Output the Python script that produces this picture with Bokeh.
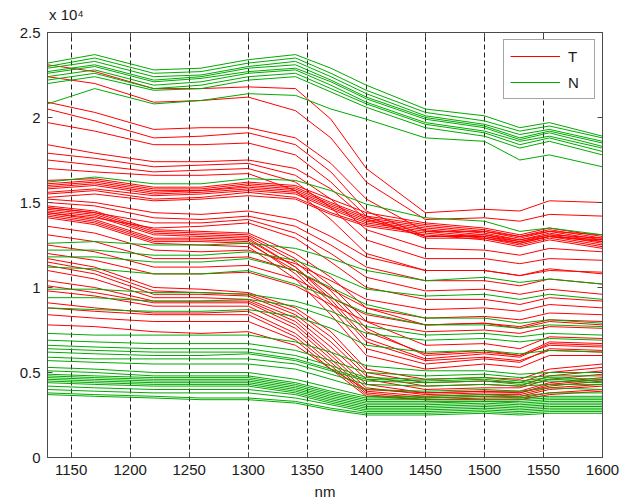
from bokeh.plotting import figure
from bokeh.models import Range1d, FixedTicker, LinearAxis, Label
from bokeh.embed import file_html
from bokeh.resources import INLINE

# wavelength sample points (nm)
WAVELENGTH_NM = [1130, 1170, 1220, 1260, 1300, 1340, 1370, 1400, 1450, 1500, 1530, 1555, 1600]

# ---- T spectra (intensity, units of 10^4) ----
T_TOP = [
    [2.31, 2.27, 2.17, 2.17, 2.18, 2.17, 1.99, 1.70, 1.44, 1.46, 1.45, 1.51, 1.50],
    [2.24, 2.20, 2.09, 2.10, 2.12, 2.04, 1.88, 1.62, 1.40, 1.41, 1.39, 1.43, 1.42],
    [2.09, 2.03, 1.93, 1.94, 1.94, 1.88, 1.73, 1.52, 1.33, 1.33, 1.30, 1.33, 1.31],
    [2.05, 1.98, 1.88, 1.89, 1.91, 1.84, 1.68, 1.45, 1.30, 1.31, 1.28, 1.31, 1.29],
    [1.97, 1.92, 1.84, 1.84, 1.85, 1.78, 1.62, 1.42, 1.29, 1.29, 1.26, 1.30, 1.27],
    [1.84, 1.79, 1.74, 1.74, 1.75, 1.70, 1.58, 1.40, 1.30, 1.30, 1.27, 1.30, 1.28],
    [1.79, 1.76, 1.71, 1.72, 1.73, 1.66, 1.52, 1.34, 1.23, 1.22, 1.19, 1.23, 1.21],
    [1.75, 1.72, 1.68, 1.69, 1.70, 1.62, 1.47, 1.28, 1.17, 1.17, 1.14, 1.17, 1.16],
    [1.70, 1.68, 1.66, 1.66, 1.67, 1.57, 1.40, 1.20, 1.10, 1.10, 1.07, 1.10, 1.09],
]
T_BAND_16 = [
    [1.63, 1.64, 1.59, 1.59, 1.62, 1.60, 1.52, 1.44, 1.38, 1.35, 1.31, 1.35, 1.30],
    [1.61, 1.63, 1.58, 1.58, 1.61, 1.59, 1.50, 1.42, 1.37, 1.34, 1.30, 1.34, 1.29],
    [1.60, 1.62, 1.57, 1.57, 1.60, 1.58, 1.49, 1.41, 1.36, 1.33, 1.29, 1.33, 1.28],
    [1.59, 1.61, 1.56, 1.57, 1.59, 1.57, 1.48, 1.40, 1.35, 1.32, 1.28, 1.32, 1.27],
    [1.58, 1.60, 1.55, 1.56, 1.58, 1.56, 1.47, 1.39, 1.34, 1.31, 1.27, 1.31, 1.26],
    [1.56, 1.58, 1.54, 1.55, 1.57, 1.55, 1.46, 1.38, 1.33, 1.30, 1.26, 1.30, 1.25],
    [1.55, 1.57, 1.52, 1.53, 1.56, 1.53, 1.44, 1.37, 1.32, 1.29, 1.25, 1.29, 1.24],
    [1.53, 1.55, 1.51, 1.52, 1.54, 1.52, 1.43, 1.36, 1.31, 1.28, 1.24, 1.28, 1.23],
]
T_UPPER_GRADUAL = [
    [1.52, 1.50, 1.44, 1.43, 1.45, 1.40, 1.30, 1.18, 1.10, 1.10, 1.07, 1.11, 1.08],
    [1.50, 1.48, 1.41, 1.40, 1.42, 1.36, 1.25, 1.12, 1.04, 1.04, 1.01, 1.05, 1.02],
    [1.47, 1.44, 1.38, 1.38, 1.40, 1.32, 1.20, 1.06, 0.98, 0.99, 0.96, 0.99, 0.96],
    [1.44, 1.41, 1.35, 1.36, 1.38, 1.29, 1.15, 1.00, 0.93, 0.93, 0.90, 0.94, 0.92],
]
T_BAND_STEEP = [
    [1.48, 1.45, 1.34, 1.33, 1.32, 1.20, 1.06, 0.88, 0.78, 0.79, 0.76, 0.80, 0.78],
    [1.47, 1.44, 1.33, 1.32, 1.31, 1.17, 1.01, 0.80, 0.66, 0.67, 0.64, 0.71, 0.70],
    [1.46, 1.43, 1.32, 1.31, 1.30, 1.15, 0.98, 0.76, 0.60, 0.62, 0.60, 0.68, 0.67],
    [1.45, 1.42, 1.31, 1.30, 1.29, 1.12, 0.93, 0.70, 0.58, 0.61, 0.59, 0.67, 0.66],
    [1.44, 1.40, 1.29, 1.29, 1.28, 1.12, 0.95, 0.74, 0.61, 0.63, 0.60, 0.66, 0.65],
    [1.43, 1.39, 1.28, 1.28, 1.27, 1.08, 0.88, 0.64, 0.55, 0.58, 0.56, 0.64, 0.63],
    [1.42, 1.38, 1.27, 1.27, 1.26, 1.10, 0.91, 0.68, 0.57, 0.59, 0.57, 0.63, 0.62],
    [1.41, 1.37, 1.26, 1.25, 1.24, 1.05, 0.84, 0.60, 0.52, 0.55, 0.53, 0.60, 0.60],
]
T_MID = [
    [1.36, 1.32, 1.22, 1.21, 1.22, 1.14, 1.04, 0.93, 0.87, 0.88, 0.86, 0.90, 0.88],
    [1.31, 1.27, 1.17, 1.17, 1.18, 1.10, 0.99, 0.88, 0.82, 0.83, 0.81, 0.85, 0.84],
    [1.25, 1.21, 1.12, 1.12, 1.13, 1.05, 0.94, 0.84, 0.78, 0.79, 0.77, 0.81, 0.80],
    [1.20, 1.16, 1.08, 1.08, 1.09, 1.01, 0.90, 0.80, 0.74, 0.75, 0.73, 0.77, 0.76],
]
T_LOW = [
    [1.17, 1.12, 1.00, 0.99, 0.97, 0.88, 0.74, 0.52, 0.46, 0.47, 0.46, 0.52, 0.55],
    [1.15, 1.10, 0.98, 0.97, 0.96, 0.86, 0.71, 0.50, 0.44, 0.45, 0.44, 0.50, 0.53],
    [1.13, 1.08, 0.96, 0.96, 0.95, 0.84, 0.68, 0.48, 0.42, 0.43, 0.42, 0.48, 0.51],
    [1.10, 1.05, 0.94, 0.94, 0.93, 0.82, 0.65, 0.46, 0.40, 0.41, 0.41, 0.46, 0.49],
    [1.04, 1.00, 0.92, 0.92, 0.92, 0.80, 0.62, 0.43, 0.38, 0.39, 0.39, 0.44, 0.47],
    [1.01, 0.97, 0.91, 0.91, 0.91, 0.78, 0.60, 0.41, 0.37, 0.38, 0.38, 0.42, 0.45],
    [0.98, 0.95, 0.89, 0.89, 0.89, 0.76, 0.58, 0.39, 0.36, 0.37, 0.37, 0.41, 0.43],
    [0.91, 0.88, 0.85, 0.85, 0.86, 0.73, 0.56, 0.38, 0.35, 0.36, 0.36, 0.40, 0.42],
    [0.88, 0.86, 0.84, 0.84, 0.84, 0.71, 0.54, 0.37, 0.34, 0.35, 0.35, 0.38, 0.40],
    [0.84, 0.82, 0.80, 0.80, 0.80, 0.69, 0.52, 0.36, 0.34, 0.34, 0.34, 0.37, 0.39],
    [0.78, 0.77, 0.74, 0.73, 0.74, 0.66, 0.52, 0.40, 0.38, 0.39, 0.38, 0.43, 0.46],
]

# ---- N spectra (intensity, units of 10^4) ----
N_TOP = [
    [2.32, 2.37, 2.28, 2.29, 2.34, 2.37, 2.29, 2.19, 2.05, 2.01, 1.94, 1.97, 1.89],
    [2.30, 2.35, 2.26, 2.27, 2.32, 2.35, 2.26, 2.16, 2.03, 1.98, 1.92, 1.95, 1.88],
    [2.29, 2.33, 2.24, 2.25, 2.30, 2.33, 2.24, 2.14, 2.01, 1.96, 1.90, 1.93, 1.86],
    [2.27, 2.31, 2.22, 2.24, 2.29, 2.31, 2.22, 2.12, 2.00, 1.95, 1.88, 1.92, 1.85],
    [2.26, 2.30, 2.21, 2.23, 2.27, 2.29, 2.21, 2.11, 1.99, 1.94, 1.87, 1.91, 1.83],
    [2.24, 2.28, 2.19, 2.21, 2.26, 2.28, 2.19, 2.09, 1.97, 1.92, 1.86, 1.89, 1.82],
    [2.22, 2.26, 2.17, 2.19, 2.24, 2.26, 2.17, 2.08, 1.96, 1.91, 1.84, 1.88, 1.80],
    [2.20, 2.24, 2.16, 2.17, 2.22, 2.24, 2.15, 2.06, 1.94, 1.89, 1.82, 1.86, 1.78],
    [2.08, 2.17, 2.08, 2.10, 2.14, 2.13, 2.05, 1.99, 1.88, 1.86, 1.75, 1.78, 1.71],
]
N_MID = [
    [1.62, 1.65, 1.61, 1.61, 1.64, 1.63, 1.57, 1.49, 1.41, 1.39, 1.33, 1.35, 1.31],
    [1.26, 1.27, 1.25, 1.25, 1.26, 1.23, 1.17, 1.10, 1.04, 1.06, 1.03, 1.05, 1.02],
    [1.22, 1.22, 1.19, 1.19, 1.21, 1.16, 1.08, 0.99, 0.95, 0.96, 0.93, 0.96, 0.93],
    [1.18, 1.18, 1.15, 1.15, 1.17, 1.10, 1.00, 0.90, 0.82, 0.82, 0.79, 0.81, 0.79],
    [1.12, 1.11, 1.08, 1.08, 1.10, 1.02, 0.94, 0.85, 0.78, 0.78, 0.76, 0.78, 0.77],
    [0.99, 0.99, 0.97, 0.97, 0.96, 0.92, 0.86, 0.77, 0.72, 0.73, 0.71, 0.73, 0.72],
    [0.94, 0.94, 0.92, 0.92, 0.93, 0.89, 0.82, 0.73, 0.69, 0.70, 0.68, 0.70, 0.69],
    [0.88, 0.87, 0.86, 0.86, 0.87, 0.83, 0.76, 0.66, 0.62, 0.63, 0.61, 0.63, 0.62],
]
N_LOWMID = [
    [0.73, 0.72, 0.72, 0.72, 0.72, 0.68, 0.62, 0.54, 0.51, 0.51, 0.49, 0.50, 0.50],
    [0.69, 0.68, 0.67, 0.67, 0.67, 0.63, 0.57, 0.50, 0.48, 0.49, 0.47, 0.48, 0.48],
    [0.66, 0.65, 0.64, 0.64, 0.64, 0.60, 0.54, 0.47, 0.46, 0.47, 0.45, 0.47, 0.46],
    [0.64, 0.63, 0.62, 0.62, 0.62, 0.58, 0.52, 0.46, 0.45, 0.46, 0.44, 0.46, 0.45],
    [0.62, 0.61, 0.60, 0.60, 0.61, 0.57, 0.51, 0.45, 0.44, 0.45, 0.43, 0.45, 0.44],
    [0.59, 0.58, 0.58, 0.58, 0.58, 0.55, 0.49, 0.43, 0.42, 0.43, 0.42, 0.43, 0.43],
    [0.57, 0.56, 0.55, 0.55, 0.55, 0.52, 0.46, 0.40, 0.39, 0.40, 0.39, 0.41, 0.40],
]
N_LOW = [
    [0.53, 0.52, 0.50, 0.50, 0.50, 0.46, 0.41, 0.36, 0.36, 0.37, 0.36, 0.38, 0.38],
    [0.51, 0.50, 0.48, 0.48, 0.48, 0.44, 0.39, 0.35, 0.35, 0.36, 0.35, 0.36, 0.36],
    [0.49, 0.48, 0.47, 0.47, 0.47, 0.43, 0.38, 0.34, 0.34, 0.34, 0.34, 0.35, 0.35],
    [0.48, 0.47, 0.46, 0.46, 0.46, 0.42, 0.37, 0.33, 0.33, 0.33, 0.33, 0.34, 0.34],
    [0.47, 0.46, 0.45, 0.45, 0.45, 0.41, 0.36, 0.32, 0.32, 0.33, 0.32, 0.33, 0.33],
    [0.46, 0.45, 0.44, 0.44, 0.44, 0.40, 0.35, 0.31, 0.31, 0.32, 0.31, 0.32, 0.32],
    [0.45, 0.44, 0.43, 0.43, 0.43, 0.39, 0.34, 0.30, 0.30, 0.31, 0.30, 0.31, 0.31],
    [0.44, 0.43, 0.42, 0.42, 0.42, 0.38, 0.33, 0.29, 0.29, 0.30, 0.29, 0.30, 0.30],
    [0.42, 0.41, 0.40, 0.40, 0.40, 0.37, 0.32, 0.28, 0.28, 0.29, 0.28, 0.29, 0.29],
    [0.40, 0.39, 0.38, 0.38, 0.38, 0.35, 0.31, 0.27, 0.27, 0.28, 0.27, 0.28, 0.28],
    [0.38, 0.37, 0.36, 0.35, 0.35, 0.33, 0.29, 0.26, 0.26, 0.27, 0.26, 0.27, 0.27],
    [0.37, 0.36, 0.35, 0.34, 0.34, 0.32, 0.28, 0.25, 0.25, 0.26, 0.25, 0.26, 0.26],
]

X_TICKS = [1150, 1200, 1250, 1300, 1350, 1400, 1450, 1500, 1550, 1600]
Y_TICKS = [0, 0.5, 1, 1.5, 2, 2.5]
Y_TICK_LABELS = ["0", "0.5", "1", "1.5", "2", "2.5"]
EXPONENT_TEXT = "x 10\u2074"
SERIES_NAMES = ["T", "N"]
SERIES_COLORS = ["#ff0000", "#00aa00"]

FONT = "Liberation Sans"
AXIS_COLOR = "#4a4a4a"
TEXT_COLOR = "#1a1a1a"

t_curves = T_TOP + T_BAND_16 + T_UPPER_GRADUAL + T_BAND_STEEP + T_MID + T_LOW
n_curves = N_TOP + N_MID + N_LOWMID + N_LOW

p = figure(width=621, height=502, output_backend="svg", toolbar_location=None,
           x_range=Range1d(1130, 1600), y_range=Range1d(0, 2.5),
           min_border_left=47, min_border_right=19, min_border_top=32, min_border_bottom=45)
p.background_fill_color = "white"
p.border_fill_color = "white"
p.outline_line_color = AXIS_COLOR
p.outline_line_width = 1

p.multi_line(xs=[WAVELENGTH_NM] * len(t_curves), ys=t_curves, line_color=SERIES_COLORS[0],
             line_width=1, legend_label=SERIES_NAMES[0])
p.multi_line(xs=[WAVELENGTH_NM] * len(n_curves), ys=n_curves, line_color=SERIES_COLORS[1],
             line_width=1, legend_label=SERIES_NAMES[1])

# axes
xa = p.xaxis[0]
xa.ticker = FixedTicker(ticks=X_TICKS)
xa.axis_label = "nm"
ya = p.yaxis[0]
ya.ticker = FixedTicker(ticks=Y_TICKS)
ya.major_label_overrides = {t: s for t, s in zip(Y_TICKS, Y_TICK_LABELS)}
for ax in (xa, ya):
    ax.major_tick_in = 5
    ax.major_tick_out = 0
    ax.minor_tick_line_color = None
    ax.axis_line_color = AXIS_COLOR
    ax.major_tick_line_color = AXIS_COLOR
    ax.major_label_text_font = FONT
    ax.major_label_text_font_size = "15px"
    ax.major_label_text_color = TEXT_COLOR
    ax.major_label_standoff = 7
xa.axis_label_text_font = FONT
xa.axis_label_text_font_size = "15px"
xa.axis_label_text_font_style = "normal"
xa.axis_label_text_color = TEXT_COLOR
xa.axis_label_standoff = 5

# tick marks on the right and top edges
right_axis = LinearAxis(ticker=FixedTicker(ticks=Y_TICKS), major_tick_in=5, major_tick_out=0,
                        minor_tick_line_color=None, major_label_text_font_size="0px",
                        major_label_standoff=0, axis_line_color=AXIS_COLOR,
                        major_tick_line_color=AXIS_COLOR)
p.add_layout(right_axis, "right")
top_axis = LinearAxis(ticker=FixedTicker(ticks=X_TICKS), major_tick_in=5, major_tick_out=0,
                      minor_tick_line_color=None, major_label_text_font_size="0px",
                      major_label_standoff=0, axis_line_color=AXIS_COLOR,
                      major_tick_line_color=AXIS_COLOR)
p.add_layout(top_axis, "above")

# exponent "x 10^4" above the top-left corner (MATLAB style)
EXP_POS = 1146
exp_axis = LinearAxis(ticker=FixedTicker(ticks=[EXP_POS]),
                      major_label_overrides={EXP_POS: EXPONENT_TEXT},
                      major_tick_line_color=None, minor_tick_line_color=None,
                      axis_line_color=None, major_label_standoff=4,
                      major_label_text_font=FONT, major_label_text_font_size="15px",
                      major_label_text_color=TEXT_COLOR)
p.add_layout(exp_axis, "above")

# grid: vertical dashed only
p.xgrid.ticker = FixedTicker(ticks=X_TICKS)
p.xgrid.grid_line_color = "#222222"
p.xgrid.grid_line_dash = "5 3"
p.xgrid.grid_line_width = 1
p.ygrid.grid_line_color = None

# invisible helper labels rendered after the legend
p.add_layout(Label(x=1130, y=2.5, text=" ", x_offset=1, y_offset=9,
                   text_font=FONT, text_font_size="15px", text_color="white",
                   text_alpha=0, text_baseline="alphabetic"))

# legend
lg = p.legend[0]
lg.location = "top_right"
lg.margin = 7
lg.border_line_color = AXIS_COLOR
lg.border_line_width = 1
lg.background_fill_color = "white"
lg.background_fill_alpha = 1
lg.label_text_font = FONT
lg.label_text_font_size = "15px"
lg.label_text_color = TEXT_COLOR
lg.glyph_width = 50
lg.glyph_height = 20
lg.label_height = 20
lg.label_standoff = 8
lg.spacing = 6
lg.padding = 6

open("out.html", "w").write(file_html(p, INLINE))
